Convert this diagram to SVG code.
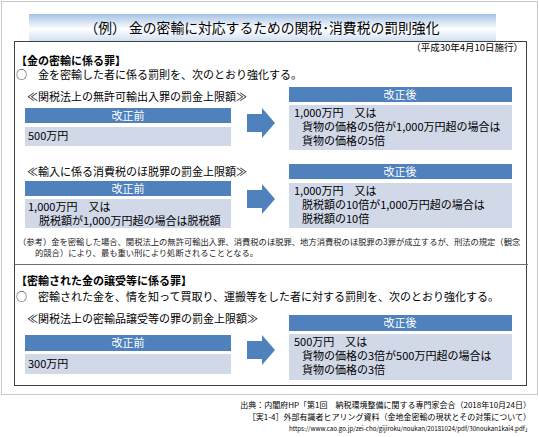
<svg xmlns="http://www.w3.org/2000/svg" width="539" height="437" viewBox="0 0 539 437">
<defs>
<linearGradient id="tg" x1="0" y1="0" x2="0" y2="1">
<stop offset="0" stop-color="#a4c2e6"/>
<stop offset="0.55" stop-color="#ffffff"/>
<stop offset="1" stop-color="#cfe0f3"/>
</linearGradient>
</defs>
<style>
text{font-family:"Noto Sans CJK JP","Liberation Sans",sans-serif;fill:#000}
.hd{fill:#4f81bd;stroke:#ffffff;stroke-width:1}
.bd{fill:#d1d8e7;stroke:#ffffff;stroke-width:1}
.ht{fill:#fff;font-size:11px;text-anchor:middle}
.t{font-size:11px}
.s{font-size:11px}
.b{font-size:11px;font-weight:bold}
.n{font-size:8.3px;fill:#222}
.f{font-size:8px;text-anchor:end}
.u{font-size:6.2px;text-anchor:end}
.ar{fill:#4f81bd}
</style>
<rect x="0" y="0" width="539" height="437" fill="#ffffff"/>
<rect x="1.5" y="1.5" width="536" height="393" fill="none" stroke="#c8c8c8" stroke-width="1"/>
<g id="title">
<rect x="29" y="14" width="467" height="27" fill="url(#tg)"/>
<text x="262" y="33" font-size="13.8" text-anchor="middle">（例）  金の密輸に対応するための関税･消費税の罰則強化</text>
</g>
<rect x="14.5" y="41.5" width="512" height="344" fill="none" stroke="#404040" stroke-width="1"/>
<line x1="14.5" y1="264.5" x2="528" y2="264.5" stroke="#707070" stroke-width="1"/>
<text x="523" y="51" font-size="9.5" text-anchor="end">（平成30年4月10日施行）</text>
<text x="16" y="65" class="b">【金の密輸に係る罪】</text>
<text x="16" y="79" class="t">○　金を密輸した者に係る罰則を、次のとおり強化する。</text>

<g id="sec1-label"><text x="27" y="101" class="s">≪関税法上の無許可輸出入罪の罰金上限額≫</text></g>
<g id="sec1-before">
<rect class="hd" x="24.5" y="107.5" width="207" height="16"/>
<text class="ht" x="128" y="119.5">改正前</text>
<rect class="bd" x="24.5" y="126.5" width="207" height="20"/>
<text class="t" x="28" y="140">500万円</text>
</g>
<g id="sec1-after">
<rect class="hd" x="288.5" y="86.5" width="224" height="16"/>
<text class="ht" x="400" y="98.5">改正後</text>
<rect class="bd" x="288.5" y="104.5" width="224" height="46"/>
<text class="t" x="294" y="117">1,000万円　又は</text>
<text class="t" x="302" y="131">貨物の価格の5倍が1,000万円超の場合は</text>
<text class="t" x="302" y="145">貨物の価格の5倍</text>
</g>

<g id="sec2-label"><text x="27" y="176" class="s">≪輸入に係る消費税のほ脱罪の罰金上限額≫</text></g>
<g id="sec2-before">
<rect class="hd" x="24.5" y="180.5" width="207" height="16"/>
<text class="ht" x="128" y="192.5">改正前</text>
<rect class="bd" x="24.5" y="198.5" width="207" height="30"/>
<text class="t" x="28" y="211">1,000万円　又は</text>
<text class="t" x="39" y="225">脱税額が1,000万円超の場合は脱税額</text>
</g>
<g id="sec2-after">
<rect class="hd" x="288.5" y="163.5" width="224" height="16"/>
<text class="ht" x="400" y="175.5">改正後</text>
<rect class="bd" x="288.5" y="182.5" width="224" height="46"/>
<text class="t" x="294" y="195">1,000万円　又は</text>
<text class="t" x="302" y="209">脱税額の10倍が1,000万円超の場合は</text>
<text class="t" x="302" y="223">脱税額の10倍</text>
</g>
<g id="note">
<text class="n" x="18" y="245">（参考）金を密輸した場合、関税法上の無許可輸出入罪、消費税のほ脱罪、地方消費税のほ脱罪の3罪が成立するが、刑法の規定（観念</text>
<text class="n" x="35" y="256">的競合）により、最も重い刑により処断されることとなる。</text>
</g>

<text x="16" y="285" class="b">【密輸された金の譲受等に係る罪】</text>
<text x="16" y="301" class="t">○　密輸された金を、情を知って買取り、運搬等をした者に対する罰則を、次のとおり強化する。</text>
<g id="sec3-label"><text x="27" y="323" class="s">≪関税法上の密輸品譲受等の罪の罰金上限額≫</text></g>
<g id="sec3-before">
<rect class="hd" x="24.5" y="334.5" width="207" height="17"/>
<text class="ht" x="128" y="347">改正前</text>
<rect class="bd" x="24.5" y="353.5" width="207" height="21"/>
<text class="t" x="28" y="368">300万円</text>
</g>
<g id="sec3-after">
<rect class="hd" x="288.5" y="314.5" width="224" height="17"/>
<text class="ht" x="400" y="327">改正後</text>
<rect class="bd" x="288.5" y="333.5" width="224" height="47"/>
<text class="t" x="294" y="346">500万円　又は</text>
<text class="t" x="302" y="360">貨物の価格の3倍が500万円超の場合は</text>
<text class="t" x="302" y="374">貨物の価格の3倍</text>
</g>

<g id="connectors">
<polygon class="ar" points="247,114 262,114 262,108 275,123 262,138 262,132 247,132"/>
<polygon class="ar" points="247,190 262,190 262,184 275,199 262,214 262,208 247,208"/>
<polygon class="ar" points="247,341 262,341 262,335 275,350 262,365 262,359 247,359"/>
</g>

<g id="footer">
<text class="f" x="531" y="408">出典：内閣府HP「第1回　納税環境整備に関する専門家会合（2018年10月24日）</text>
<text class="f" x="531" y="420">［実1-4］外部有識者ヒアリング資料（金地金密輸の現状とその対策について）</text>
<text class="u" x="531" y="431">https://www.cao.go.jp/zei-cho/gijiroku/noukan/20181024/pdf/30noukan1kai4.pdf」</text>
</g>
</svg>
